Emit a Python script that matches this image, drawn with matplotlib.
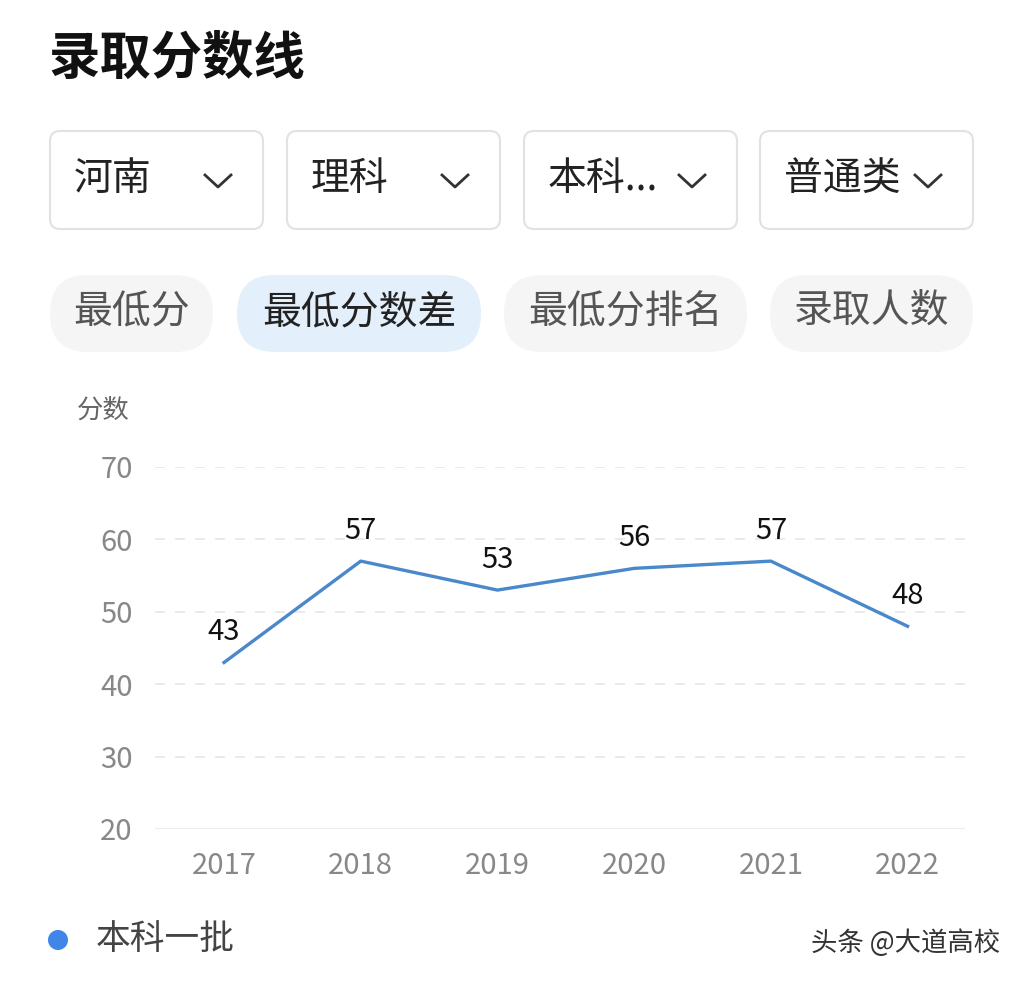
import matplotlib
matplotlib.use('Agg')
import matplotlib.pyplot as plt
from matplotlib.patches import FancyBboxPatch, Circle

plt.rcParams['font.family'] = ['Noto Sans CJK SC', 'DejaVu Sans']

# data
years = ['2017', '2018', '2019', '2020', '2021', '2022']
score_diff = [43, 57, 53, 56, 57, 48]
series_name = '本科一批'
y_ticks = [20, 30, 40, 50, 60, 70]

title = '录取分数线'
dropdowns = ['河南', '理科', '本科...', '普通类']
tabs = ['最低分', '最低分数差', '最低分排名', '录取人数']
selected_tab = 1

line_color = '#4a88cc'

fig = plt.figure(figsize=(10.24, 9.82), dpi=100)

# background layer in pixel coordinates for the app-like widgets
bg = fig.add_axes([0, 0, 1, 1])
bg.set_xlim(0, 1024)
bg.set_ylim(982, 0)
bg.axis('off')

bg.text(48, 58, title, fontsize=37, fontweight='bold', color='#111111', va='center', ha='left')

box_x = [50, 287, 524, 760]
for x0, lab in zip(box_x, dropdowns):
    bg.add_patch(FancyBboxPatch((x0, 131), 213, 98, boxstyle='round,pad=0,rounding_size=10',
                                fc='white', ec='#e2e2e2', lw=1.5))
    bg.text(x0 + 24, 179, lab, fontsize=28, color='#222222', va='center', ha='left')
    cx = x0 + 168
    bg.plot([cx - 13, cx, cx + 13], [175, 187, 175], color='#333333', lw=2)

tab_x = [(50, 213), (237, 481), (504, 747), (770, 973)]
for i, ((x0, x1), lab) in enumerate(zip(tab_x, tabs)):
    fc = '#e4effc' if i == selected_tab else '#f5f5f5'
    bg.add_patch(FancyBboxPatch((x0, 275), x1 - x0, 77, boxstyle='round,pad=0,rounding_size=38',
                                fc=fc, ec='none'))
    bg.text((x0 + x1) / 2, 312, lab, fontsize=28, color='#222222' if i == selected_tab else '#555555',
            va='center', ha='center')

bg.text(77, 410, '分数', fontsize=19, color='#666666', va='center', ha='left')

# legend + watermark
bg.add_patch(Circle((58, 940), 10, fc='#3f86e8', ec='none'))
bg.text(96, 939, series_name, fontsize=25, color='#444444', va='center', ha='left')
bg.text(1000, 943, '头条 @大道高校', fontsize=19, color='#333333', va='center', ha='right')

# chart
ax = fig.add_axes([155 / 1024, 1 - 829 / 982, 810 / 1024, 362 / 982])
x = list(range(len(years)))
ax.plot(x, score_diff, color=line_color, lw=2.4, solid_joinstyle='round')
for xi, v in zip(x, score_diff):
    ax.annotate(str(v), (xi, v), xytext=(0, 11), textcoords='offset points',
                ha='center', va='bottom', fontsize=21, color='#111111')

ax.set_ylim(20, 70)
ax.set_xlim(-0.505, 5.42)
ax.set_yticks(y_ticks)
ax.set_xticks(x)
ax.set_xticklabels(years)
for t in y_ticks[1:]:
    ax.axhline(t, color='#e6e6e6', lw=1.2, ls=(0, (6, 6)), zorder=0)
ax.axhline(20, color='#ececec', lw=1.5, zorder=0)
for s in ax.spines.values():
    s.set_visible(False)
ax.tick_params(axis='both', length=0, labelsize=21, labelcolor='#888888')
ax.tick_params(axis='y', pad=16)
ax.tick_params(axis='x', pad=16)
ax.patch.set_alpha(0)

fig.savefig('out.png', dpi=100)
